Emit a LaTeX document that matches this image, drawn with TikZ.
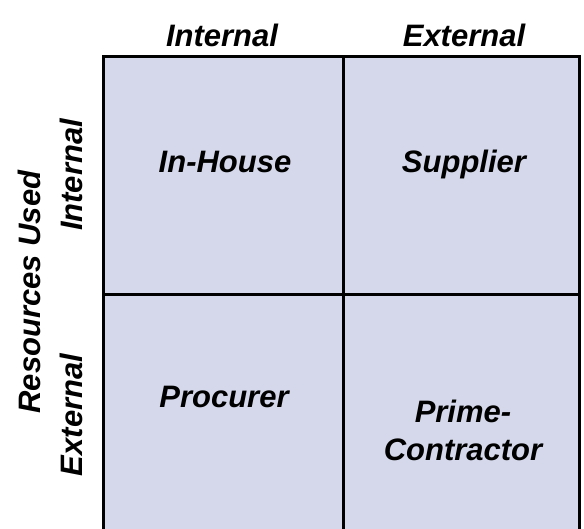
\documentclass[tikz,border=0pt]{standalone}
\usepackage{fontspec}
\setmainfont{Liberation Sans}
\definecolor{cellfill}{HTML}{D5D8EA}
\begin{document}
\begin{tikzpicture}[x=1pt,y=1pt,
  lbl/.style={font=\fontsize{31}{38}\selectfont\bfseries\itshape, inner sep=0pt, anchor=base},
  vlbl/.style={lbl, rotate=90},
  gridline/.style={line width=3pt, draw=black}]
  \useasboundingbox (0,0) rectangle (584,528);
  \clip (0,0) rectangle (584,528);
  % matrix cells
  \fill[cellfill] (103,471) rectangle (579,-10);
  \draw[gridline] (103,-10) -- (103,471) -- (579,471) -- (579,-10);
  \coordinate (vtop) at (343,471);
  \coordinate (vbot) at (343,-10);
  \coordinate (hl) at (103,233);
  \coordinate (hr) at (579,233);
  \draw[gridline] (vtop) -- (vbot);
  \draw[gridline] (hl) -- (hr);
  % column headers
  \node[lbl] (colint) at (222,481) {Internal};
  \node[lbl] (colext) at (464,481) {External};
  % row headers
  \node[vlbl] (rowint) at (82,353) {Internal};
  \node[vlbl] (rowext) at (82,113) {External};
  \node[vlbl] (rowtitle) at (40,236) {Resources Used};
  % quadrant labels
  \node[lbl] (inhouse) at (225,355) {In-House};
  \node[lbl] (supplier) at (464,355) {Supplier};
  \node[lbl] (procurer) at (224,121) {Procurer};
  \node[lbl] (primeA) at (463,106) {Prime-};
  \node[lbl] (primeB) at (463,68) {Contractor};
\end{tikzpicture}
\end{document}
